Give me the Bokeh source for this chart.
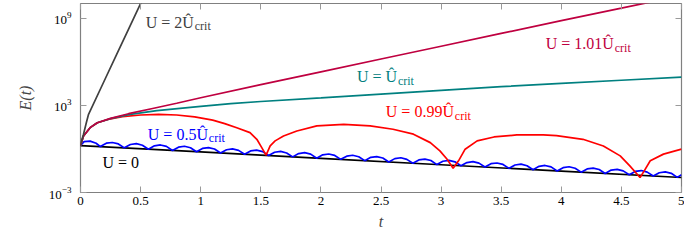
import numpy as np
from bokeh.plotting import figure
from bokeh.models import Range1d, FixedTicker, LinearAxis, LogAxis, Label, CustomJSTickFormatter
from bokeh.embed import file_html
from bokeh.resources import INLINE

# ---------------- data (log10 E) ----------------
t_zero = [0, 1, 2, 3, 4, 5]
logE_zero = [0.23, -0.21, -0.65, -1.09, -1.53, -1.97]

t_half = [0, 0.03, 0.08, 0.13, 0.165,
          0.215, 0.265, 0.315, 0.365, 0.415, 0.465, 0.515, 0.565,
          0.615, 0.665, 0.715, 0.765, 0.815, 0.865, 0.915, 0.965,
          1.015, 1.065, 1.115, 1.165, 1.215, 1.265, 1.315, 1.365,
          1.415, 1.465, 1.515, 1.565, 1.615, 1.665, 1.715, 1.765,
          1.815, 1.865, 1.915, 1.965, 2.015, 2.065, 2.115, 2.165,
          2.215, 2.265, 2.315, 2.365, 2.415, 2.465, 2.515, 2.565,
          2.615, 2.665, 2.715, 2.765, 2.815, 2.865, 2.915, 2.965,
          3.015, 3.065, 3.115, 3.165, 3.215, 3.265, 3.315, 3.365,
          3.415, 3.465, 3.515, 3.565, 3.615, 3.665, 3.715, 3.765,
          3.815, 3.865, 3.915, 3.965, 4.015, 4.065, 4.115, 4.165,
          4.215, 4.265, 4.315, 4.365, 4.415, 4.465, 4.515, 4.565,
          4.615, 4.665, 4.715, 4.765, 4.815, 4.865, 4.915, 4.965, 5.0]
logE_half = [0.23, 0.50, 0.53, 0.39, 0.16,
             0.39, 0.44, 0.34, 0.07, 0.30, 0.36, 0.25, -0.02,
             0.21, 0.27, 0.17, -0.11, 0.12, 0.18, 0.08, -0.20,
             0.03, 0.09, -0.01, -0.28, -0.06, 0.00, -0.10, -0.37,
             -0.14, -0.09, -0.19, -0.46, -0.23, -0.17, -0.28, -0.55,
             -0.32, -0.26, -0.36, -0.64, -0.41, -0.35, -0.45, -0.72,
             -0.50, -0.44, -0.54, -0.81, -0.58, -0.53, -0.63, -0.90,
             -0.67, -0.61, -0.72, -0.99, -0.76, -0.70, -0.80, -1.08,
             -0.85, -0.79, -0.89, -1.16, -0.94, -0.88, -0.98, -1.25,
             -1.02, -0.97, -1.07, -1.34, -1.11, -1.05, -1.16, -1.43,
             -1.20, -1.14, -1.24, -1.52, -1.29, -1.23, -1.33, -1.60,
             -1.38, -1.32, -1.42, -1.69, -1.46, -1.41, -1.51, -1.78,
             -1.55, -1.49, -1.60, -1.87, -1.64, -1.58, -1.68, -1.96, -1.78]

t_099 = [0, 0.025, 0.08, 0.14, 0.25, 0.35, 0.5, 0.65, 0.8, 0.95, 1.1, 1.2, 1.3,
         1.41, 1.467, 1.508, 1.544, 1.578, 1.619, 1.689, 1.8, 1.966, 2.19, 2.41,
         2.6, 2.77, 2.91, 2.99, 3.05, 3.10, 3.145, 3.2, 3.30, 3.44, 3.63, 3.85,
         3.96, 4.18, 4.35, 4.49, 4.57, 4.655, 4.69, 4.74, 4.85, 5.0]
logE_099 = [0.23, 0.89, 1.46, 1.80, 2.07, 2.22, 2.33, 2.38, 2.33, 2.20, 1.98, 1.74, 1.45,
            1.12, 0.66, 0.09, -0.43, 0.21, 0.55, 0.89, 1.23, 1.58, 1.69, 1.58,
            1.35, 1.01, 0.43, -0.14, -0.71, -1.33, -0.82, -0.02, 0.55, 0.82, 0.96, 0.96,
            0.91, 0.66, 0.20, -0.48, -1.17, -1.97, -1.51, -0.82, -0.36, -0.02]

t_crit = [0, 0.025, 0.08, 0.14, 0.25, 0.4, 0.635, 1.0, 1.25, 1.5, 2.0, 2.5, 3.0, 3.5, 4.0, 4.5, 5.0]
logE_crit = [0.23, 0.89, 1.46, 1.80, 2.08, 2.36, 2.63, 2.92, 3.11, 3.26, 3.51, 3.77, 4.03, 4.28, 4.50, 4.72, 4.94]

t_101 = [0, 0.025, 0.08, 0.14, 0.25, 0.4, 0.6, 0.8, 1.0, 1.5, 2.0, 2.5, 3.0, 3.5, 4.0, 4.5, 4.8]
logE_101 = [0.23, 0.89, 1.46, 1.80, 2.10, 2.42, 2.78, 3.14, 3.52, 4.42, 5.30, 6.18, 7.06, 7.94, 8.82, 9.68, 10.2]

t_two = [0, 0.012, 0.025, 0.05, 0.067, 0.2, 0.3, 0.4, 0.52]
logE_two = [0.23, 0.65, 1.01, 1.85, 2.38, 4.72, 6.48, 8.24, 10.35]

x_ticks = [0, 0.5, 1, 1.5, 2, 2.5, 3, 3.5, 4, 4.5, 5]
x_tick_labels = ["0", "0.5", "1", "1.5", "2", "2.5", "3", "3.5", "4", "4.5", "5"]
y_ticks = [1e-3, 1e3, 1e9]

# ---------------- figure ----------------
SERIF = "'Liberation Serif', 'DejaVu Serif', serif"
FRAME = "#808080"
TICK = "#9a9a9a"

p = figure(width=684, height=232, x_range=Range1d(0, 5), y_range=Range1d(1e-3, 1e10),
           y_axis_type="log", output_backend="svg", toolbar_location=None,
           min_border_left=80, min_border_right=3, min_border_top=3, min_border_bottom=40)
p.background_fill_color = "white"
p.border_fill_color = "white"
p.grid.visible = False
p.outline_line_color = FRAME
p.outline_line_width = 1.2

# bottom axis
xa = p.xaxis[0]
xa.ticker = FixedTicker(ticks=x_ticks)
xa.major_label_overrides = {tk: lb for tk, lb in zip(x_ticks, x_tick_labels)}
xa.minor_tick_line_color = None
xa.major_tick_in = 6
xa.major_tick_out = 0
xa.major_tick_line_color = TICK
xa.axis_line_color = None
xa.major_label_standoff = 4
xa.major_label_text_font = SERIF
xa.major_label_text_font_size = "13px"
xa.major_label_text_color = "black"
xa.axis_label = "t"
xa.axis_label_text_font = SERIF
xa.axis_label_text_font_style = "italic"
xa.axis_label_text_font_size = "16px"
xa.axis_label_standoff = 5

# left axis
ya = p.yaxis[0]
ya.ticker = FixedTicker(ticks=y_ticks)
ya.minor_tick_line_color = None
ya.major_tick_in = 6
ya.major_tick_out = 0
ya.major_tick_line_color = TICK
ya.axis_line_color = None
ya.major_label_standoff = 9
ya.major_label_text_font = SERIF
ya.major_label_text_font_size = "13px"
ya.major_label_text_color = "black"
ya.axis_label = "E(t)"
ya.axis_label_text_font = SERIF
ya.axis_label_text_font_style = "italic"
ya.axis_label_text_font_size = "16px"
ya.axis_label_standoff = 12

top = LinearAxis(ticker=FixedTicker(ticks=x_ticks), formatter=CustomJSTickFormatter(code="return ''"),
                 major_tick_in=6, major_tick_out=0,
                 major_tick_line_color=TICK, minor_tick_line_color=None, axis_line_color=None,
                 major_label_text_font_size="0px", major_label_standoff=0)
right = LogAxis(ticker=FixedTicker(ticks=y_ticks), formatter=CustomJSTickFormatter(code="return ''"),
                major_tick_in=6, major_tick_out=0,
                major_tick_line_color=TICK, minor_tick_line_color=None, axis_line_color=None,
                major_label_text_font_size="0px", major_label_standoff=0)
p.add_layout(top, "above")
p.add_layout(right, "right")

def E(vals):
    return 10 ** np.asarray(vals, dtype=float)

LW = 1.7
p.line(t_zero, E(logE_zero), line_color="black", line_width=LW)
p.line(t_half, E(logE_half), line_color="#0000FF", line_width=LW)
p.line(t_099, E(logE_099), line_color="#FF0000", line_width=LW)
p.line(t_crit, E(logE_crit), line_color="#008080", line_width=LW)
p.line(t_101, E(logE_101), line_color="#BF0040", line_width=LW)
p.line(t_two, E(logE_two), line_color="#404040", line_width=LW)

# annotations: (text, t, log10 E, colour, width of main text in px or None)
annotations = [
    ("U = 2Û", 0.543, 8.70, "#404040", 48),
    ("U = 1.01Û", 3.871, 7.23, "#BF0040", 68),
    ("U = Û", 2.30, 4.95, "#008080", 40),
    ("U = 0.99Û", 2.54, 2.54, "#FF0000", 68),
    ("U = 0.5Û", 0.56, 1.01, "#0000FF", 60),
    ("U = 0", 0.183, -0.94, "black", None),
]
for text, tx, ly, col, w in annotations:
    p.add_layout(Label(x=tx, y=10 ** ly, text=text, text_font=SERIF, text_font_size="16px",
                       text_color=col, text_align="left", text_baseline="middle"))
    if w is not None:
        p.add_layout(Label(x=tx, y=10 ** ly, x_offset=w + 1, y_offset=-4, text="crit",
                           text_font=SERIF, text_font_size="12px", text_color=col,
                           text_align="left", text_baseline="middle"))

open("out.html", "w").write(file_html(p, INLINE))
